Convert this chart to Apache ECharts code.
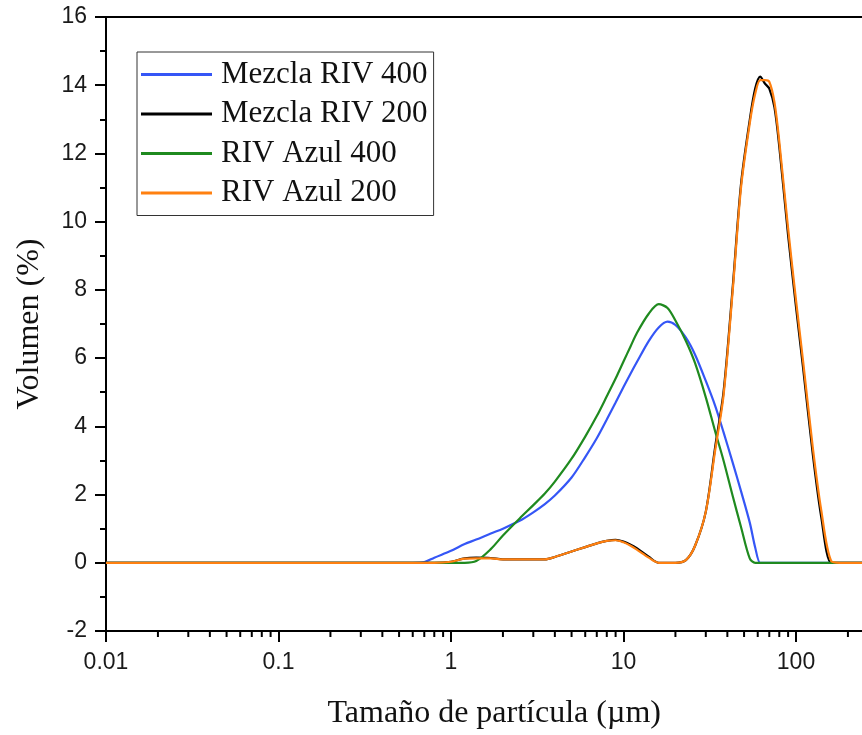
<!DOCTYPE html>
<html>
<head>
<meta charset="utf-8">
<script src="https://cdn.jsdelivr.net/npm/echarts@6/dist/echarts.min.js"></script>
<style>
  html, body { margin: 0; padding: 0; background: #fff; }
  #chart { width: 862px; height: 735px; }
</style>
</head>
<body>
<div id="chart"></div>
<script>
// Particle size classes (µm)
const sizes = [0.01, 0.6, 0.7, 0.8, 1.0, 1.2, 1.4, 1.7, 2.0, 2.5, 3.0, 3.5, 4.0, 5, 6, 7, 8, 9, 10, 11, 12, 14, 16, 18, 20, 23, 26, 30, 34, 38, 43, 48, 54, 58, 62, 66, 70, 75, 80, 90, 100, 110, 125, 140, 160, 180, 200, 250];

// Volume (%) per size class
const mezclaRIV400 = [0, 0, 0.02, 0.15, 0.35, 0.55, 0.68, 0.86, 1.0, 1.23, 1.48, 1.72, 1.97, 2.5, 3.1, 3.65, 4.2, 4.7, 5.15, 5.55, 5.9, 6.5, 6.9, 7.07, 6.97, 6.6, 6.1, 5.33, 4.6, 3.83, 2.93, 2.1, 1.17, 0.45, 0, 0, 0, 0, 0, 0, 0, 0, 0, 0, 0, 0, 0, 0];
const mezclaRIV200 = [0, 0, 0, 0, 0.03, 0.13, 0.15, 0.14, 0.1, 0.1, 0.1, 0.1, 0.17, 0.33, 0.46, 0.57, 0.64, 0.67, 0.62, 0.53, 0.42, 0.18, 0, 0, 0, 0.08, 0.5, 1.5, 3.4, 5.0, 8.1, 11.1, 13.0, 13.9, 14.25, 14.05, 13.9, 13.35, 12.2, 9.6, 7.5, 5.7, 3.2, 1.35, 0, 0, 0, 0];
const rivAzul400 = [0, 0, 0, 0, 0, 0, 0.05, 0.4, 0.8, 1.3, 1.69, 2.03, 2.38, 3.05, 3.7, 4.3, 4.88, 5.4, 5.9, 6.35, 6.75, 7.3, 7.58, 7.47, 7.1, 6.5, 5.85, 4.85, 3.85, 3.0, 1.95, 1.05, 0.12, 0, 0, 0, 0, 0, 0, 0, 0, 0, 0, 0, 0, 0, 0, 0];
const rivAzul200 = [0, 0, 0, 0, 0.03, 0.12, 0.13, 0.13, 0.1, 0.1, 0.1, 0.1, 0.17, 0.33, 0.46, 0.57, 0.64, 0.66, 0.6, 0.5, 0.38, 0.15, 0, 0, 0, 0.08, 0.5, 1.5, 3.3, 4.9, 8.0, 11.0, 12.9, 13.75, 14.15, 14.15, 14.1, 13.5, 12.35, 9.8, 7.7, 5.9, 3.4, 1.55, 0.05, 0, 0, 0];

const seriesNames = ['Mezcla RIV 400', 'Mezcla RIV 200', 'RIV Azul 400', 'RIV Azul 200'];
const seriesValues = [mezclaRIV400, mezclaRIV200, rivAzul400, rivAzul200];
const seriesColors = ['#3556f6', '#000000', '#1f8a1f', '#ff8010'];

// Intermediate log-axis tick positions (2..9 of each decade)
const minorTicks = [];
[0.01, 0.1, 1, 10, 100].forEach(d => {
  for (let k = 2; k <= 9; k++) minorTicks.push(+(d * k).toPrecision(3));
});

const labelFont = { fontFamily: 'Liberation Sans', fontSize: 23, color: '#1a1a1a' };
const titleFont = { fontFamily: 'Liberation Serif', fontSize: 32, color: '#111' };

const lineSeries = seriesNames.map((name, i) => ({
  name: name,
  type: 'line',
  xAxisIndex: 0,
  yAxisIndex: 0,
  data: sizes.map((s, j) => [s, seriesValues[i][j]]),
  showSymbol: false,
  smooth: 0.3,
  lineStyle: { color: seriesColors[i], width: 2.2 },
  itemStyle: { color: seriesColors[i] },
  z: 3 + i
}));

const chart = echarts.init(document.getElementById('chart'), null, { renderer: 'canvas' });
chart.setOption({
  animation: false,
  backgroundColor: '#fff',
  grid: { left: 106, top: 17, bottom: 104, right: -106.5, show: false, outerBoundsMode: 'none', containLabel: false },
  legend: {
    orient: 'vertical',
    left: 137,
    top: 52,
    itemWidth: 71,
    itemHeight: 3,
    itemGap: 8.5,
    icon: 'rect',
    padding: [7, 6, 7, 4],
    borderColor: '#333',
    borderWidth: 1,
    textStyle: { fontFamily: 'Liberation Serif', fontSize: 31, color: '#111', padding: [0, 0, 0, 4] },
    data: seriesNames
  },
  xAxis: [{
    type: 'log',
    logBase: 10,
    min: 0.01,
    max: 1000,
    axisLine: { onZero: false, lineStyle: { color: '#000', width: 2 } },
    axisTick: { show: true, inside: false, length: 11, lineStyle: { color: '#000', width: 2 } },
    minorTick: { show: false },
    splitLine: { show: false },
    axisLabel: Object.assign({ margin: 20, formatter: v => String(+(+v).toPrecision(6)) }, labelFont),
    name: 'Tamaño de partícula (µm)',
    nameLocation: 'middle',
    nameGap: 67,
    nameTextStyle: Object.assign({ padding: [0, 86, 0, 0] }, titleFont)
  }, {
    type: 'log',
    logBase: 10,
    position: 'top',
    min: 0.01,
    max: 1000,
    axisLine: { onZero: false, lineStyle: { color: '#000', width: 2 } },
    axisTick: { show: false },
    axisLabel: { show: false },
    splitLine: { show: false }
  }],
  yAxis: {
    type: 'value',
    min: -2,
    max: 16,
    interval: 2,
    axisLine: { show: true, onZero: false, lineStyle: { color: '#000', width: 2 } },
    axisTick: { show: true, inside: false, length: 11, lineStyle: { color: '#000', width: 2 } },
    minorTick: { show: true, splitNumber: 2, length: 6, lineStyle: { color: '#000', width: 2 } },
    splitLine: { show: false },
    axisLabel: Object.assign({ margin: 19 }, labelFont),
    name: 'Volumen (%)',
    nameLocation: 'middle',
    nameGap: 60,
    nameTextStyle: titleFont
  },
  series: lineSeries.concat([{
    type: 'custom',
    name: 'minorTicks',
    xAxisIndex: 0,
    yAxisIndex: 0,
    silent: true,
    clip: false,
    z: 10,
    data: minorTicks.map(v => [v, -2]),
    renderItem: (params, api) => {
      const p = api.coord([api.value(0), api.value(1)]);
      return {
        type: 'line',
        shape: { x1: p[0], y1: p[1], x2: p[0], y2: p[1] + 6 },
        style: { stroke: '#000', lineWidth: 2 }
      };
    }
  }])
});
</script>
</body>
</html>
